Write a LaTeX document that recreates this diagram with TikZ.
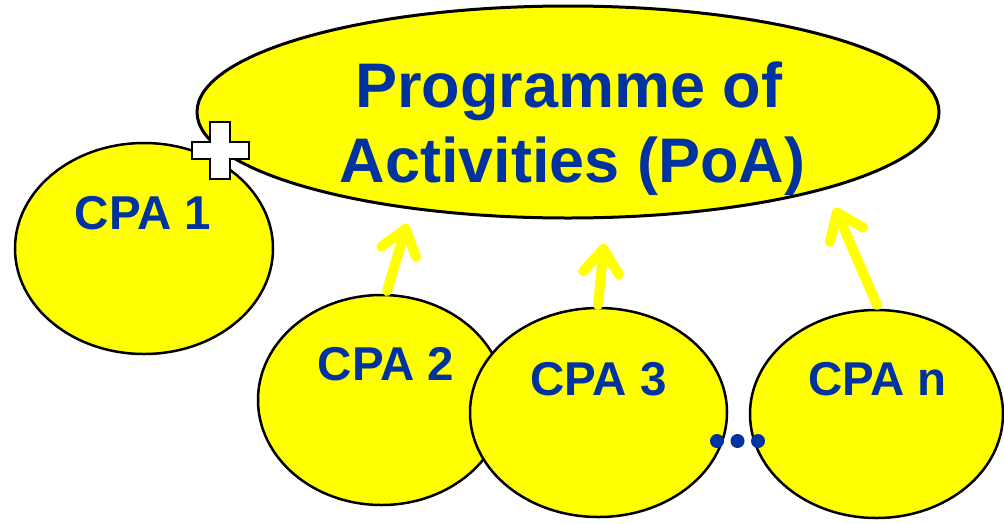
\documentclass[tikz,border=0pt]{standalone}
\usepackage{fontspec}
\setmainfont{Liberation Sans}
\usetikzlibrary{shapes.geometric,arrows.meta}
\definecolor{ylw}{RGB}{255,255,0}
\definecolor{txtblue}{RGB}{0,51,160}
\tikzset{
  blob/.style={ellipse, draw=black, line width=2.5pt, fill=ylw, inner sep=0pt},
  bigtxt/.style={anchor=base, text=txtblue, font=\fontsize{63}{75}\selectfont\bfseries, inner sep=0pt},
  cpatxt/.style={anchor=base, text=txtblue, font=\fontsize{47.5}{55}\selectfont\bfseries, inner sep=0pt},
  uparrow/.style={draw=ylw, line width=10pt, line cap=round,
    -{Straight Barb[length=24pt, width=36pt, line cap=round, line join=round]}},
  dotstyle/.style={circle, fill=txtblue, inner sep=0pt, minimum size=14pt}
}
\begin{document}
\begin{tikzpicture}[x=1pt, y=-1pt]
\useasboundingbox (0,0) rectangle (1004,523);
% CPA 1 behind
\node[blob, minimum width=258pt, minimum height=211pt] (cpa1) at (144,248.5) {};
% Programme of activities
\node[blob, line width=3pt, minimum width=742pt, minimum height=212pt] (poa) at (568,112) {};
% white cross
\draw[fill=white, draw=black, line width=2pt]
  (210,122) -- (230,122) -- (230,142) -- (249,142) -- (249,159) -- (230,159)
  -- (230,179) -- (210,179) -- (210,159) -- (192,159) -- (192,142) -- (210,142) -- cycle;
% lower CPAs
\node[blob, minimum width=247pt, minimum height=210pt] (cpa2) at (381.5,400) {};
\node[blob, minimum width=257pt, minimum height=209pt] (cpa3) at (598.5,412.5) {};
\node[blob, minimum width=253pt, minimum height=208pt] (cpan) at (876.5,414) {};
% arrow targets
\coordinate (t1) at (407,224);
\coordinate (t2) at (604,244);
\coordinate (t3) at (835,208);
\coordinate (s1) at (387,291);
\coordinate (s2) at (598,305);
\coordinate (s3) at (877,305);
\draw[uparrow] (s1) -- (t1);
\draw[uparrow] (s2) -- (t2);
\draw[uparrow] (s3) -- (t3);
% dots
\node[dotstyle] (d1) at (717,441) {};
\node[dotstyle] (d2) at (737.5,441) {};
\node[dotstyle] (d3) at (758,441) {};
% texts
\node[bigtxt] (l1) at (569,107) {Programme of};
\node[bigtxt] (l2) at (572.5,182) {Activities (PoA)};
\node[cpatxt] (c1) at (143,229) {CPA 1};
\node[cpatxt] (c2) at (386,380) {CPA 2};
\node[cpatxt] (c3) at (598.5,395) {CPA 3};
\node[cpatxt] (cn) at (877.5,395) {CPA n};
\end{tikzpicture}
\end{document}
